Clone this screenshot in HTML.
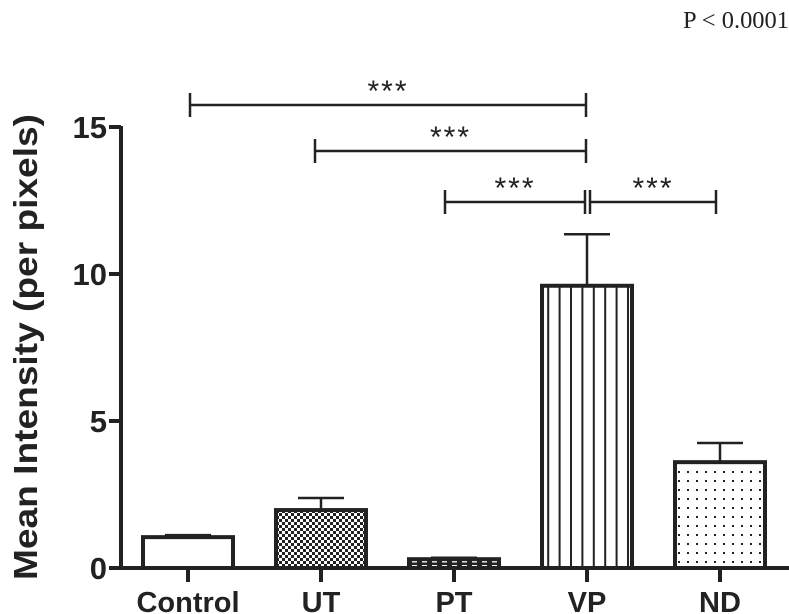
<!DOCTYPE html>
<html><head><meta charset="utf-8"><style>
body{margin:0;background:#fff}
svg{display:block}
</style></head><body>
<svg id="chart" width="789" height="614" viewBox="0 0 789 614" xmlns="http://www.w3.org/2000/svg">
<defs>
<pattern id="checker" width="6" height="6" patternUnits="userSpaceOnUse"><rect width="6" height="6" fill="#fff"/><rect width="3" height="3" fill="#222"/><rect x="3" y="3" width="3" height="3" fill="#222"/></pattern>
<pattern id="vlines" width="11.4" height="10" patternUnits="userSpaceOnUse"><rect width="11.4" height="10" fill="#fff"/><rect x="0" width="2" height="10" fill="#222"/></pattern>
<pattern id="dots" width="9" height="9" patternUnits="userSpaceOnUse"><rect width="9" height="9" fill="#fff"/><rect x="3" y="3" width="2" height="2" fill="#222"/></pattern>
<pattern id="dash" width="10" height="4" patternUnits="userSpaceOnUse"><rect width="10" height="4" fill="#222"/><rect x="2" y="1" width="5" height="1.5" fill="#fff"/></pattern>
</defs>
<text x="789" y="28" text-anchor="end" textLength="106" lengthAdjust="spacingAndGlyphs" font-family="Liberation Serif, serif" font-size="24" fill="#222">P &lt; 0.0001</text>
<text transform="translate(37,347) rotate(-90)" text-anchor="middle" textLength="466" lengthAdjust="spacingAndGlyphs" font-family="Liberation Sans, sans-serif" font-weight="bold" font-size="33" fill="#222">Mean Intensity (per pixels)</text>
<g id="plot"></g>
</svg>
<script>
const categories=["Control","UT","PT","VP","ND"];
const means=[1.05,1.97,0.3,9.6,3.6];
const errors=[0.07,0.41,0.05,1.75,0.65];
const fills=["#fff","url(#checker)","url(#dash)","url(#vlines)","url(#dots)"];
const yTicks=[0,5,10,15];
const sigFrom=[0,1,2,3];
const sigTo=[3,3,3,4];
const sigLevel=[105,151,202,202];
const sigLabels=["***","***","***","***"];

const NS="http://www.w3.org/2000/svg";
const g=document.getElementById("plot");
const y0=568,pxPerUnit=29.4,xAxis=121,x0=188,step=133,bw=90;
const y=v=>y0-v*pxPerUnit;
const x=i=>x0+i*step;
function mk(tag,attrs,parent){const e=document.createElementNS(NS,tag);for(const k in attrs)e.setAttribute(k,attrs[k]);(parent||g).appendChild(e);return e;}

let e=mk("line",{x1:xAxis,y1:y(15)-1,x2:xAxis,y2:y0,stroke:"#222","stroke-width":4});


e=mk("line",{x1:xAxis-2,y1:y0,x2:789,y2:y0,stroke:"#222","stroke-width":4});


yTicks.forEach(t=>{
 let l=mk("line",{x1:xAxis-12,y1:y(t),x2:xAxis,y2:y(t),stroke:"#222","stroke-width":4});
 
 
 let tx=mk("text",{x:xAxis-14,y:y(t)+11,"text-anchor":"end","font-family":"Liberation Sans, sans-serif","font-weight":"bold","font-size":31,fill:"#222"});
 tx.textContent=t;
 
 
});
categories.forEach((c,i)=>{
 const cx=x(i);
 let er=mk("line",{x1:cx,y1:y(means[i]),x2:cx,y2:y(means[i]+errors[i]),stroke:"#222","stroke-width":2.5});
 
 
 let cap=mk("line",{x1:cx-23,y1:y(means[i]+errors[i]),x2:cx+23,y2:y(means[i]+errors[i]),stroke:"#222","stroke-width":2.5});
 
 
 let b=mk("rect",{x:cx-bw/2,y:y(means[i]),width:bw,height:y0-y(means[i]),fill:fills[i],stroke:"#222","stroke-width":4});
 
 
 let tk=mk("line",{x1:cx,y1:y0,x2:cx,y2:y0+14,stroke:"#222","stroke-width":4});
 
 
 let lb=mk("text",{x:cx,y:612,"text-anchor":"middle","font-family":"Liberation Sans, sans-serif","font-weight":"bold","font-size":29,fill:"#222"});
 lb.textContent=c;
 
 
});
sigFrom.forEach((f,k)=>{
 const a=x(f)+(f===0?2:(f===1?-6:-9)),b=x(sigTo[k])+(sigTo[k]===3?(k===3?0:-1):-4);
 const ax=(k===3)?x(3)+3:a, bx=(k===2)?x(3)-2:b;
 const yy=sigLevel[k];
 let br=mk("path",{d:`M${ax},${yy-12}V${yy+12}M${ax},${yy}H${bx}M${bx},${yy-12}V${yy+12}`,stroke:"#222","stroke-width":2.5,fill:"none"});
 
 
 let st=mk("text",{x:(ax+bx)/2,y:yy-4,"text-anchor":"middle","font-family":"Liberation Sans, sans-serif","font-size":30,"letter-spacing":"2",fill:"#222"});
 st.textContent=sigLabels[k];
 
 
});
</script>
</body></html>
